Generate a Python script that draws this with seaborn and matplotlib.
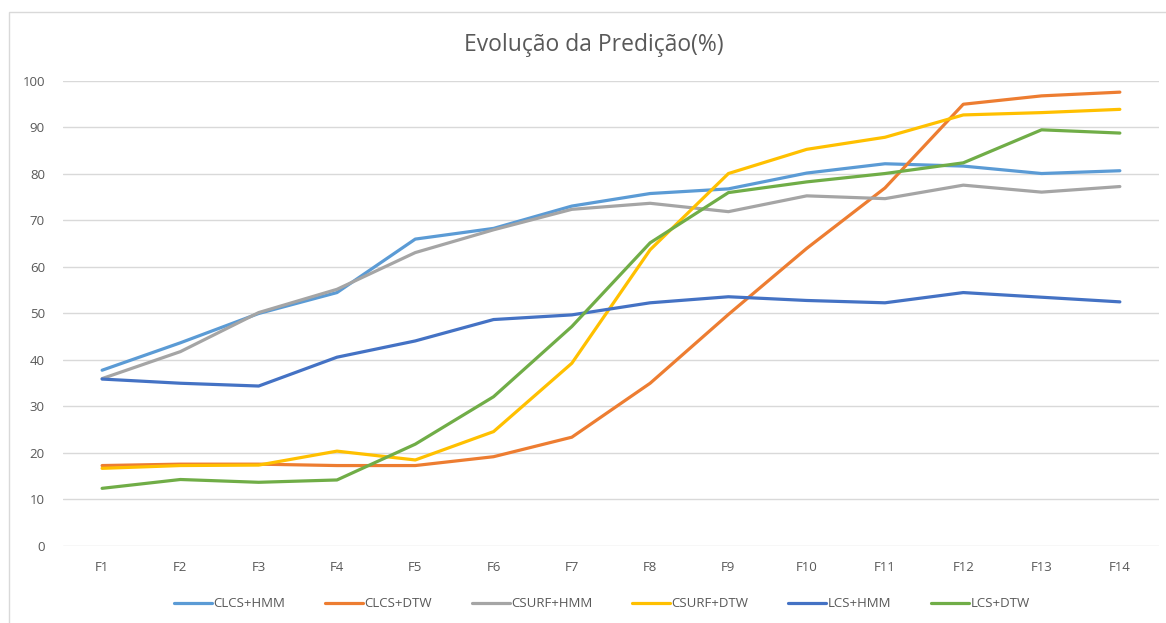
import pandas as pd
import seaborn as sns
import matplotlib.pyplot as plt
from matplotlib.patches import Rectangle

fases = ["F1", "F2", "F3", "F4", "F5", "F6", "F7", "F8", "F9", "F10", "F11", "F12", "F13", "F14"]

clcs_hmm = [37.8, 43.7, 50.0, 54.5, 66.0, 68.3, 73.1, 75.8, 76.8, 80.2, 82.2, 81.7, 80.1, 80.7]
clcs_dtw = [17.3, 17.6, 17.6, 17.3, 17.3, 19.2, 23.4, 35.0, 49.8, 64.0, 77.0, 95.0, 96.8, 97.6]
csurf_hmm = [36.0, 41.8, 50.2, 55.2, 63.1, 68.0, 72.4, 73.7, 71.9, 75.3, 74.7, 77.6, 76.1, 77.3]
csurf_dtw = [16.7, 17.3, 17.4, 20.4, 18.5, 24.6, 39.3, 63.7, 80.1, 85.3, 87.9, 92.7, 93.2, 93.9]
lcs_hmm = [35.9, 35.0, 34.4, 40.6, 44.1, 48.7, 49.7, 52.3, 53.6, 52.8, 52.3, 54.5, 53.5, 52.5]
lcs_dtw = [12.4, 14.3, 13.7, 14.2, 21.9, 32.1, 47.2, 65.2, 76.0, 78.3, 80.1, 82.4, 89.5, 88.8]

series = {
    "CLCS+HMM": clcs_hmm,
    "CLCS+DTW": clcs_dtw,
    "CSURF+HMM": csurf_hmm,
    "CSURF+DTW": csurf_dtw,
    "LCS+HMM": lcs_hmm,
    "LCS+DTW": lcs_dtw,
}
cores = ["#5B9BD5", "#ED7D31", "#A5A5A5", "#FFC000", "#4472C4", "#70AD47"]


def main() -> None:
    df = pd.DataFrame(
        [
            {"fase": f, "idx": i, "metodo": nome, "valor": v}
            for nome, vals in series.items()
            for i, (f, v) in enumerate(zip(fases, vals))
        ]
    )

    sns.set_theme(style="white")
    plt.rcParams["font.family"] = ["Open Sans", "DejaVu Sans"]

    fig = plt.figure(figsize=(11.66, 6.23), dpi=100)
    ax = fig.add_axes([0.054, 0.1236, 0.94, 0.7464])

    sns.lineplot(
        data=df, x="idx", y="valor", hue="metodo", palette=cores,
        linewidth=2.3, ax=ax, legend=True,
    )

    ax.set_xlim(-0.5, len(fases) - 0.5)
    ax.set_ylim(0, 100)
    ax.set_yticks(range(0, 101, 10))
    ax.set_xticks(range(len(fases)))
    ax.set_xticklabels(fases)
    ax.yaxis.grid(True, color="#D9D9D9", linewidth=1)
    ax.set_axisbelow(True)
    for s in ax.spines.values():
        s.set_visible(False)
    ax.tick_params(axis="both", length=0, labelsize=9.5, colors="#595959")
    ax.tick_params(axis="y", pad=13)
    ax.tick_params(axis="x", pad=11)
    ax.set_xlabel("")
    ax.set_ylabel("")

    fig.suptitle("Evolução da Predição(%)", x=0.509, y=0.928, va="center",
                 fontsize=16.5, color="#595959")

    handles, labels = ax.get_legend_handles_labels()
    ax.legend(
        handles, labels, loc="center", bbox_to_anchor=(0.516, 0.0305),
        bbox_transform=fig.transFigure, ncol=6, frameon=False,
        fontsize=9.5, labelcolor="#595959", handlelength=2.9,
        handletextpad=0.1, columnspacing=3.0,
    )

    # chart area border (top and left edges visible)
    fig.patches.append(Rectangle((9 / 1166, -0.1), 1.2, 1.1 - 12 / 623,
                                 transform=fig.transFigure, fill=False,
                                 edgecolor="#D9D9D9", linewidth=1))

    fig.savefig("out.png", dpi=100)
    plt.close(fig)


if __name__ == "__main__":
    main()
